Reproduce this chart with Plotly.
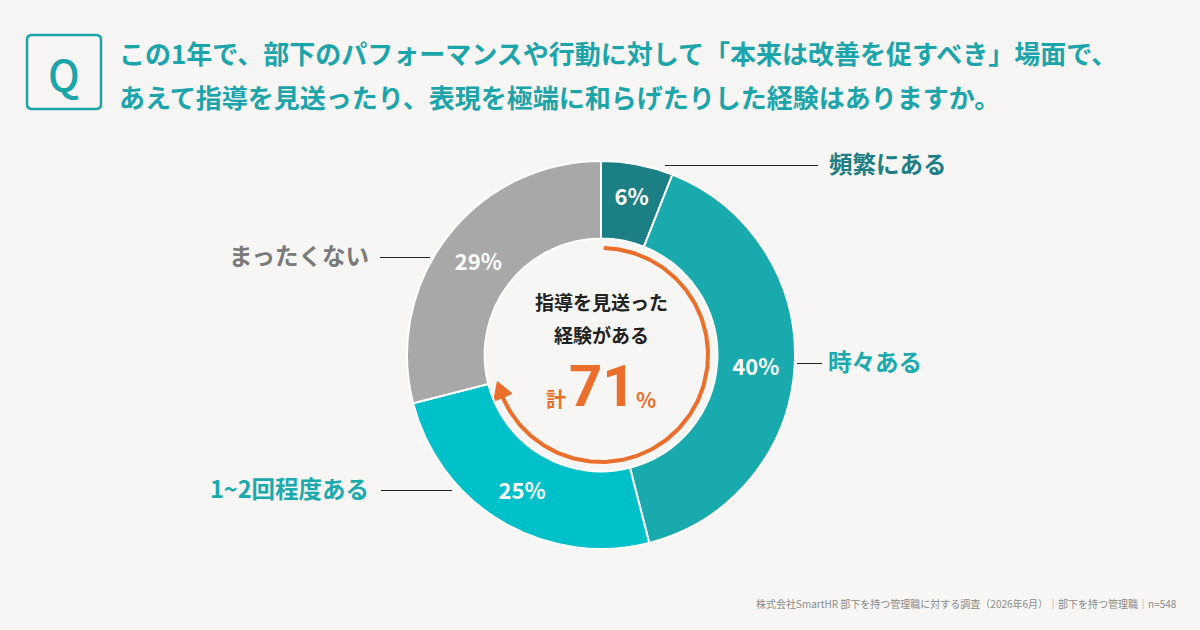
import numpy as np
import plotly.graph_objects as go

# ---- data ----
categories = ["頻繁にある", "時々ある", "1~2回程度ある", "まったくない"]
values = [6, 40, 25, 29]
colors = ["#1b7f85", "#19aaae", "#00c1c9", "#a8a8a8"]
label_colors = ["#1b7f85", "#19aaae", "#19aaae", "#7a7a7a"]
title_lines = [
    "この1年で、部下のパフォーマンスや行動に対して「本来は改善を促すべき」場面で、",
    "あえて指導を見送ったり、表現を極端に和らげたりした経験はありますか。",
]
center_lines = ["指導を見送った", "経験がある"]
total_label = sum(values[:3])
footer = "株式会社SmartHR 部下を持つ管理職に対する調査（2026年6月）｜部下を持つ管理職｜n=548"

FONT = "Noto Sans CJK JP"
BG = "#f7f6f4"
TEAL = "#1ba5aa"
ORANGE = "#eb6f2b"
W, H = 1200, 630

# pie geometry (pixels)
CX, CY, R = 601, 355, 194

fig = go.Figure()

fig.add_trace(go.Pie(
    labels=categories, values=values, sort=False, direction="clockwise", rotation=0,
    hole=0.6,
    marker=dict(colors=colors, line=dict(color="white", width=2)),
    texttemplate="%{value}%", textposition="inside", insidetextorientation="horizontal",
    textfont=dict(family=FONT, size=22, color="white", weight=700),
    domain=dict(x=[(CX - R) / W, (CX + R) / W], y=[(H - CY - R) / H, (H - CY + R) / H]),
    showlegend=False, hoverinfo="skip",
))

# orange arc with arrow, spanning the combined share
frac = total_label / sum(values)
r_arc = 107
end_deg = 360 * frac
th = np.radians(np.linspace(1.5, end_deg - 7, 200))
fig.add_trace(go.Scatter(
    x=CX + r_arc * np.sin(th), y=CY - r_arc * np.cos(th), mode="lines",
    line=dict(color=ORANGE, width=4), hoverinfo="skip", showlegend=False,
))
# arrowhead
tip = np.radians(end_deg)
base = np.radians(end_deg - 9)
bx, by = CX + r_arc * np.sin(base), CY - r_arc * np.cos(base)
nx, ny = np.sin(base), -np.cos(base)
hw = 10
tx, ty = CX + r_arc * np.sin(tip), CY - r_arc * np.cos(tip)
fig.add_trace(go.Scatter(
    x=[tx, bx + hw * nx, bx - hw * nx, tx], y=[ty, by + hw * ny, by - hw * ny, ty],
    mode="lines", fill="toself", fillcolor=ORANGE, line=dict(color=ORANGE, width=1),
    hoverinfo="skip", showlegend=False,
))

annotations = []
shapes = []

# Q box
x0, y0, x1, y1, rr = 27, 35, 101, 109, 5
path = (f"M {x0+rr},{y0} L {x1-rr},{y0} Q {x1},{y0} {x1},{y0+rr} L {x1},{y1-rr} Q {x1},{y1} {x1-rr},{y1} "
        f"L {x0+rr},{y1} Q {x0},{y1} {x0},{y1-rr} L {x0},{y0+rr} Q {x0},{y0} {x0+rr},{y0} Z")
shapes.append(dict(type="path", path=path, xref="x", yref="y", line=dict(color=TEAL, width=2.5)))
annotations.append(dict(x=64, y=72, text="Q", xref="x", yref="y", showarrow=False,
                        font=dict(family=FONT, size=42, color=TEAL, weight=500),
                        xanchor="center", yanchor="middle"))

for i, (t, yy) in enumerate(zip(title_lines, [52, 96])):
    annotations.append(dict(x=117, y=yy, text=t, xref="x", yref="y", showarrow=False, xanchor="left",
                            yanchor="middle", font=dict(family=FONT, size=26, color=TEAL, weight=700)))

# outside labels + leader lines
lab = [
    dict(text=categories[0], x=827, y=163, anchor="left", line=(665, 818, 165)),
    dict(text=categories[1], x=826, y=361, anchor="left", line=(797, 822, 363)),
    dict(text=categories[2], x=371, y=488, anchor="right", line=(381, 452, 490)),
    dict(text=categories[3], x=371, y=255, anchor="right", line=(380, 430, 257)),
]
for i, d in enumerate(lab):
    annotations.append(dict(x=d["x"], y=d["y"], text=d["text"], xref="x", yref="y", showarrow=False,
                            xanchor=d["anchor"], yanchor="middle",
                            font=dict(family=FONT, size=23.5, color=label_colors[i], weight=700)))
    lx0, lx1, ly = d["line"]
    shapes.append(dict(type="line", x0=lx0, x1=lx1, y0=ly + 0.5, y1=ly + 0.5, xref="x", yref="y",
                       line=dict(color="#222222", width=1)))

# center text
for t, yy in zip(center_lines, [301, 334]):
    annotations.append(dict(x=601, y=yy, text=t, xref="x", yref="y", showarrow=False, xanchor="center",
                            yanchor="middle", font=dict(family=FONT, size=19, color="#222222", weight=700)))
annotations.append(dict(x=602, y=386, text=str(total_label), xref="x", yref="y", showarrow=False,
                        xanchor="center", yanchor="middle",
                        font=dict(family="Roboto", size=58, color=ORANGE, weight=700)))
annotations.append(dict(x=556, y=398, text="計", xref="x", yref="y", showarrow=False,
                        xanchor="center", yanchor="middle",
                        font=dict(family=FONT, size=20, color=ORANGE, weight=700)))
annotations.append(dict(x=646, y=399, text="%", xref="x", yref="y", showarrow=False,
                        xanchor="center", yanchor="middle",
                        font=dict(family=FONT, size=21, color=ORANGE, weight=700)))

annotations.append(dict(x=1179, y=603, text=footer, xref="x", yref="y", showarrow=False,
                        xanchor="right", yanchor="middle", font=dict(family=FONT, size=10, color="#8a8a8a")))

fig.update_layout(
    width=W, height=H, margin=dict(l=0, r=0, t=0, b=0),
    paper_bgcolor=BG, plot_bgcolor=BG,
    xaxis=dict(range=[0, W], visible=False, fixedrange=True),
    yaxis=dict(range=[H, 0], visible=False, fixedrange=True),
    annotations=annotations, shapes=shapes, showlegend=False,
)

fig.write_html("out.html", config={"displayModeBar": False})
